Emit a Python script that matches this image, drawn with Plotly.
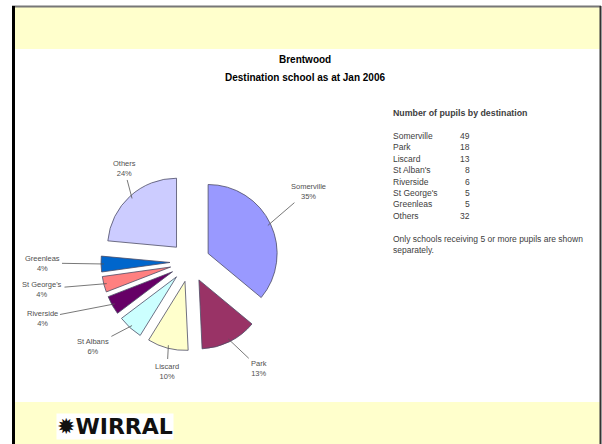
import math
import plotly.graph_objects as go

W, H = 602, 444

# table data
schools = ["Somerville", "Park", "Liscard", "St Alban's", "Riverside", "St George's", "Greenleas", "Others"]
pupils = [49, 18, 13, 8, 6, 5, 5, 32]
# labels as printed on the pie
slice_names = ["Somerville", "Park", "Liscard", "St Albans", "Riverside", "St George's", "Greenleas", "Others"]
slice_pct = [35, 13, 10, 6, 4, 4, 4, 24]
slice_colors = ["#9999FF", "#993366", "#FFFFCC", "#CCFFFF", "#660066", "#FF8080", "#0066CC", "#CCCCFF"]

FONT = "Liberation Sans, Arial, sans-serif"
TXT = "#404040"


def px(x):
    return x / W


def py(y):
    return 1 - y / H


def label(x, y, text, size=8.5, anchor="left", color=TXT, **kw):
    return dict(x=px(x), y=py(y), xref="paper", yref="paper", showarrow=False,
                xanchor=anchor, yanchor="middle", text=text,
                font=dict(family=kw.pop("family", FONT), size=size, color=color), **kw)


# pie geometry (pixels)
PIE_CX, PIE_CY, PIE_SIDE = 190, 262, 178
PULL = 0.29
r = PIE_SIDE / (2 * (1 + PULL))

fig = go.Figure()
fig.add_trace(go.Pie(
    labels=slice_names, values=pupils, sort=False,
    direction="clockwise", rotation=0, pull=PULL,
    marker=dict(colors=slice_colors, line=dict(color="#4d4d66", width=0.8)),
    textinfo="none", hoverinfo="label+value", showlegend=False,
    domain=dict(x=[px(PIE_CX - PIE_SIDE / 2), px(PIE_CX + PIE_SIDE / 2)],
                y=[py(PIE_CY + PIE_SIDE / 2), py(PIE_CY - PIE_SIDE / 2)]),
))

# where each label sits, relative to pie centre (px)
label_pos = [(118, -71), (69, 106), (-23, 109), (-97, 84), (-148, 56), (-148, 27), (-148, 1), (-66, -94)]

total = sum(pupils)
cum = 0
annotations = []
for name, v, pct, (lx, ly) in zip(slice_names, pupils, slice_pct, label_pos):
    ang = 2 * math.pi * (cum + v / 2) / total
    cum += v
    d = r * (1 + PULL) - 3
    tx = PIE_CX + d * math.sin(ang)
    ty = PIE_CY - d * math.cos(ang)
    annotations.append(dict(
        x=px(tx), y=py(ty), xref="paper", yref="paper",
        ax=PIE_CX + lx - tx, ay=PIE_CY + ly - ty,
        text=f"{name}<br>{pct}%", showarrow=True, arrowhead=0,
        arrowwidth=0.8, arrowcolor="#555555", standoff=0, startstandoff=1,
        font=dict(family=FONT, size=7.5, color="#505050"), align="center",
    ))

# title
annotations.append(label(305, 60, "<b>Brentwood</b>", size=10, anchor="center", color="black"))
annotations.append(label(305, 77, "<b>Destination school as at Jan 2006</b>", size=10,
                         anchor="center", color="black"))

# side table
annotations.append(label(391, 113, "<b>Number of pupils by destination</b>", size=8.8))
for i, (s, n) in enumerate(zip(schools, pupils)):
    yy = 136 + i * 11.4
    annotations.append(label(391, yy, s))
    annotations.append(label(472, yy, str(n), anchor="right"))
annotations.append(label(391, 244, "Only schools receiving 5 or more pupils are shown<br>separately.",
                         align="left"))

# logo
annotations.append(label(56, 426, "<b>✹WIRRAL</b>", size=22, color="#111111",
                         family="DejaVu Sans, sans-serif", bgcolor="white", borderpad=0))

shapes = [
    dict(type="rect", xref="paper", yref="paper", x0=px(15), x1=px(600), y0=py(49), y1=py(7),
         fillcolor="#FFFFCC", line=dict(width=0), layer="below"),
    dict(type="rect", xref="paper", yref="paper", x0=px(15), x1=px(600), y0=py(444), y1=py(402),
         fillcolor="#FFFFCC", line=dict(width=0), layer="below"),
    dict(type="line", xref="paper", yref="paper", x0=px(12), x1=px(601), y0=py(6.5), y1=py(6.5),
         line=dict(color="#777777", width=2)),
    dict(type="line", xref="paper", yref="paper", x0=px(13.5), x1=px(13.5), y0=py(6), y1=py(444),
         line=dict(color="black", width=3)),
    dict(type="line", xref="paper", yref="paper", x0=px(600.5), x1=px(600.5), y0=py(6), y1=py(444),
         line=dict(color="#333333", width=2)),
]

fig.update_layout(
    width=W, height=H, margin=dict(l=0, r=0, t=0, b=0),
    paper_bgcolor="white", plot_bgcolor="white",
    annotations=annotations, shapes=shapes,
)

fig.write_html("out.html", config={"displayModeBar": False},
               post_script="document.body.style.margin='0';document.body.style.overflow='hidden';")
